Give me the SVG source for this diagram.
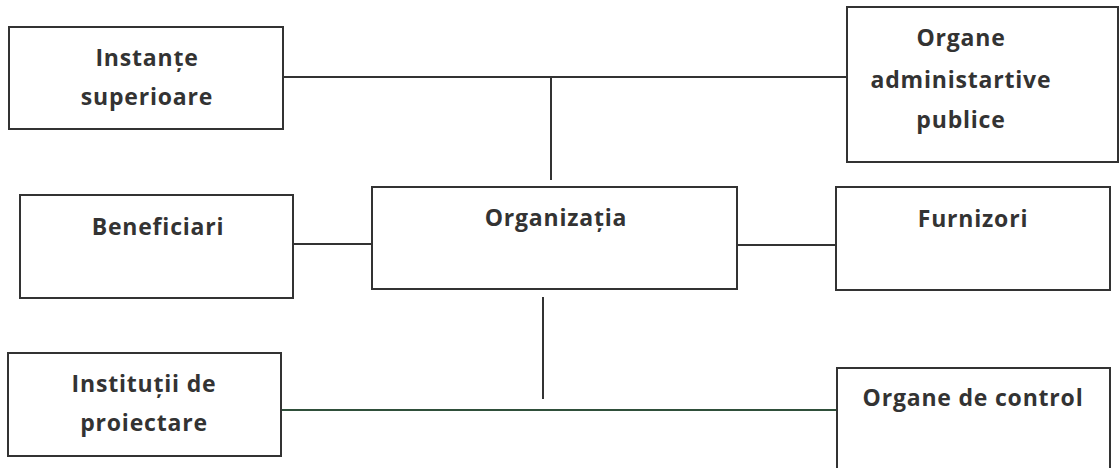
<svg xmlns="http://www.w3.org/2000/svg" width="1119" height="468" viewBox="0 0 1119 468">
<style>
.box{fill:#fff;stroke:#333;stroke-width:2}
.t{font-family:"Open Sans","Noto Sans",sans-serif;font-weight:bold;font-size:23px;letter-spacing:0.8px;fill:#333;text-anchor:middle}
.c{stroke:#333;stroke-width:2;fill:none}
.g{stroke:#2f4f3a;stroke-width:2;fill:none}
</style>
<rect width="1119" height="468" fill="#fff"/>
<g id="connectors">
<line class="c" x1="283" y1="77" x2="847" y2="77"/>
<line class="c" x1="551" y1="77" x2="551" y2="180"/>
<line class="c" x1="293" y1="244" x2="372" y2="244"/>
<line class="c" x1="737" y1="245" x2="836" y2="245"/>
<line class="c" x1="543" y1="297" x2="543" y2="399"/>
<line class="g" x1="281" y1="410" x2="837" y2="410"/>
</g>
<g id="instante">
<rect class="box" x="9" y="27" width="274" height="102"/>
<text class="t" x="147" y="66">Instanțe</text>
<text class="t" x="147" y="105">superioare</text>
</g>
<g id="organe-admin">
<rect class="box" x="847" y="7" width="271" height="155"/>
<text class="t" x="961" y="46">Organe</text>
<text class="t" x="961" y="88">administartive</text>
<text class="t" x="961" y="128">publice</text>
</g>
<g id="beneficiari">
<rect class="box" x="20" y="195" width="273" height="103"/>
<text class="t" x="158" y="235">Beneficiari</text>
</g>
<g id="organizatia">
<rect class="box" x="372" y="187" width="365" height="102"/>
<text class="t" x="556" y="226">Organizația</text>
</g>
<g id="furnizori">
<rect class="box" x="836" y="187" width="274" height="103"/>
<text class="t" x="973" y="227">Furnizori</text>
</g>
<g id="institutii">
<rect class="box" x="8" y="353" width="273" height="103"/>
<text class="t" x="144" y="392">Instituții de</text>
<text class="t" x="144" y="431">proiectare</text>
</g>
<g id="organe-control">
<rect class="box" x="837" y="368" width="273" height="110"/>
<text class="t" x="973" y="406">Organe de control</text>
</g>
</svg>
